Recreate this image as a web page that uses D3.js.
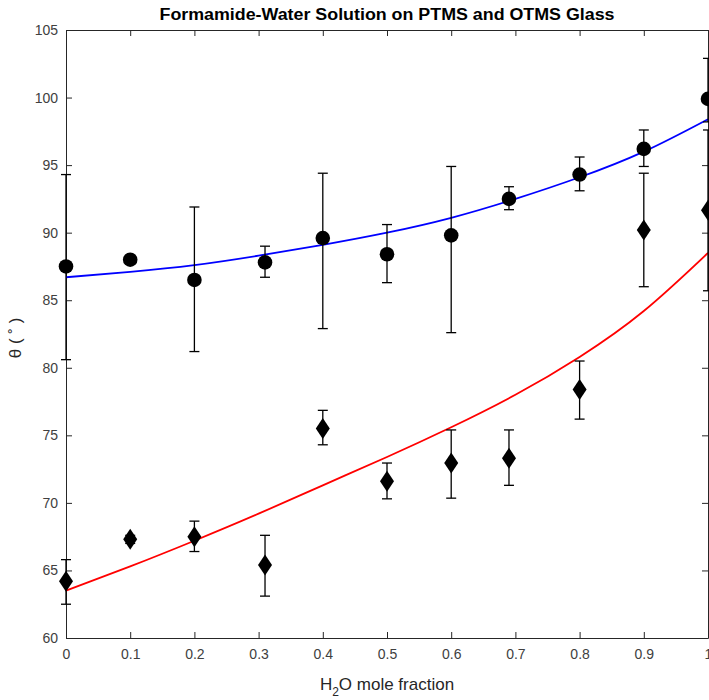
<!DOCTYPE html>
<html>
<head>
<meta charset="utf-8">
<script src="https://cdn.jsdelivr.net/npm/d3@7"></script>
<style>
  body { margin: 0; background: #fff; }
  svg { display: block; font-family: "Liberation Sans", Arial, Helvetica, sans-serif; }
  .axis path, .axis line { stroke: #262626; stroke-width: 1; }
  .axis text { fill: #404040; font-size: 14px; }
</style>
</head>
<body>
<div id="chart"></div>
<script>
const xPTMS = [0, 0.1, 0.2, 0.31, 0.4, 0.5, 0.6, 0.69, 0.8, 0.9, 1.0]
const thetaPTMS = [87.5, 88.0, 86.5, 87.8, 89.6, 88.4, 89.8, 92.5, 94.3, 96.2, 99.9]
const lowPTMS = [80.6, 87.7, 81.2, 86.7, 82.9, 86.3, 82.6, 91.7, 93.1, 94.9, 98.2]
const highPTMS = [94.3, 88.3, 91.9, 89.0, 94.4, 90.6, 94.9, 93.4, 95.6, 97.6, 102.9]

const xOTMS = [0, 0.1, 0.2, 0.31, 0.4, 0.5, 0.6, 0.69, 0.8, 0.9, 1.0]
const thetaOTMS = [64.2, 67.3, 67.5, 65.4, 75.5, 71.6, 72.95, 73.3, 78.4, 90.2, 91.65]
const lowOTMS = [62.5, 67.0, 66.4, 63.1, 74.3, 70.3, 70.35, 71.3, 76.2, 86.0, 85.7]
const highOTMS = [65.8, 67.6, 68.65, 67.6, 76.85, 72.95, 75.4, 75.4, 80.5, 94.4, 97.6]

// fitted curves
const fitX = [0, 0.1, 0.2, 0.3, 0.4, 0.5, 0.6, 0.7, 0.8, 0.9, 1.0]
const fitPTMS = [86.7, 87.1, 87.6, 88.3, 89.1, 90.0, 91.1, 92.5, 94.1, 96.0, 98.4]
const fitOTMS = [63.5, 65.3, 67.2, 69.2, 71.3, 73.4, 75.6, 78.0, 80.8, 84.2, 88.5]

const xTicks = [0, 0.1, 0.2, 0.3, 0.4, 0.5, 0.6, 0.7, 0.8, 0.9, 1]
const yTicks = [60, 65, 70, 75, 80, 85, 90, 95, 100, 105]

const W = 709, H = 700
const margin = {top: 30, right: 1, bottom: 62, left: 66}
const width = W - margin.left - margin.right
const height = H - margin.top - margin.bottom

const svg = d3.select("#chart").append("svg")
    .attr("width", W)
    .attr("height", H)

const plt = svg.append("g")
    .attr("transform", "translate(" + margin.left + "," + margin.top + ")")

const x = d3.scaleLinear().domain([0, 1]).range([0, width])
const y = d3.scaleLinear().domain([60, 105]).range([height, 0])

// axes (MATLAB style, ticks pointing in, box on)
plt.append("g").attr("class", "axis")
    .attr("transform", "translate(0," + height + ")")
    .call(d3.axisBottom(x).tickValues(xTicks).tickFormat(d3.format("~g"))
        .tickSizeInner(-6).tickSizeOuter(0).tickPadding(11))
plt.append("g").attr("class", "axis")
    .call(d3.axisTop(x).tickValues(xTicks).tickFormat("")
        .tickSizeInner(-6).tickSizeOuter(0))
plt.append("g").attr("class", "axis")
    .call(d3.axisLeft(y).tickValues(yTicks)
        .tickSizeInner(-6).tickSizeOuter(0).tickPadding(8))
plt.append("g").attr("class", "axis")
    .attr("transform", "translate(" + width + ",0)")
    .call(d3.axisRight(y).tickValues(yTicks).tickFormat("")
        .tickSizeInner(-6).tickSizeOuter(0))

// fitted curves
const line = d3.line()
    .x(d => x(d[0]))
    .y(d => y(d[1]))
    .curve(d3.curveNatural)

plt.append("path")
    .attr("d", line(fitX.map((d, i) => [d, fitPTMS[i]])))
    .attr("fill", "none")
    .attr("stroke", "#0000ff")
    .attr("stroke-width", 1.8)

plt.append("path")
    .attr("d", line(fitX.map((d, i) => [d, fitOTMS[i]])))
    .attr("fill", "none")
    .attr("stroke", "#ff0000")
    .attr("stroke-width", 1.8)

// error bars
function drawErrorBars(xs, lows, highs) {
    const g = plt.append("g")
        .attr("stroke", "#000")
        .attr("stroke-width", 1.3)
    xs.forEach((d, i) => {
        const cx = x(d)
        g.append("line")
            .attr("x1", cx).attr("x2", cx)
            .attr("y1", y(lows[i])).attr("y2", y(highs[i]))
        g.append("line")
            .attr("x1", cx - 5).attr("x2", cx + 5)
            .attr("y1", y(lows[i])).attr("y2", y(lows[i]))
        g.append("line")
            .attr("x1", cx - 5).attr("x2", cx + 5)
            .attr("y1", y(highs[i])).attr("y2", y(highs[i]))
    })
}
drawErrorBars(xPTMS, lowPTMS, highPTMS)
drawErrorBars(xOTMS, lowOTMS, highOTMS)

// markers
plt.selectAll(".ptms")
    .data(xPTMS.map((d, i) => [d, thetaPTMS[i]]))
    .enter()
    .append("circle")
    .attr("class", "ptms")
    .attr("cx", d => x(d[0]))
    .attr("cy", d => y(d[1]))
    .attr("r", 7.3)
    .attr("fill", "#000")

const dw = 7, dh = 10.5
plt.selectAll(".otms")
    .data(xOTMS.map((d, i) => [d, thetaOTMS[i]]))
    .enter()
    .append("path")
    .attr("class", "otms")
    .attr("transform", d => "translate(" + x(d[0]) + "," + y(d[1]) + ")")
    .attr("d", "M0," + (-dh) + "L" + dw + ",0L0," + dh + "L" + (-dw) + ",0Z")
    .attr("fill", "#000")

// title and labels
svg.append("text")
    .attr("x", margin.left + width / 2)
    .attr("y", 20)
    .attr("text-anchor", "middle")
    .attr("font-size", 16)
    .attr("font-weight", "bold")
    .attr("fill", "#000")
    .attr("textLength", 455)
    .attr("lengthAdjust", "spacingAndGlyphs")
    .text("Formamide-Water Solution on PTMS and OTMS Glass")

const xl = svg.append("text")
    .attr("x", margin.left + width / 2)
    .attr("y", 690)
    .attr("text-anchor", "middle")
    .attr("font-size", 17)
    .attr("fill", "#262626")
xl.append("tspan").text("H")
xl.append("tspan").attr("font-size", 12).attr("dy", 6).text("2")
xl.append("tspan").attr("dy", -6).text("O mole fraction")

svg.append("text")
    .attr("transform", "translate(21," + (margin.top + height / 2 + 4) + ") rotate(-90)")
    .attr("text-anchor", "middle")
    .attr("font-size", 17)
    .attr("fill", "#262626")
    .text("θ ( ˚ )")
</script>
</body>
</html>
